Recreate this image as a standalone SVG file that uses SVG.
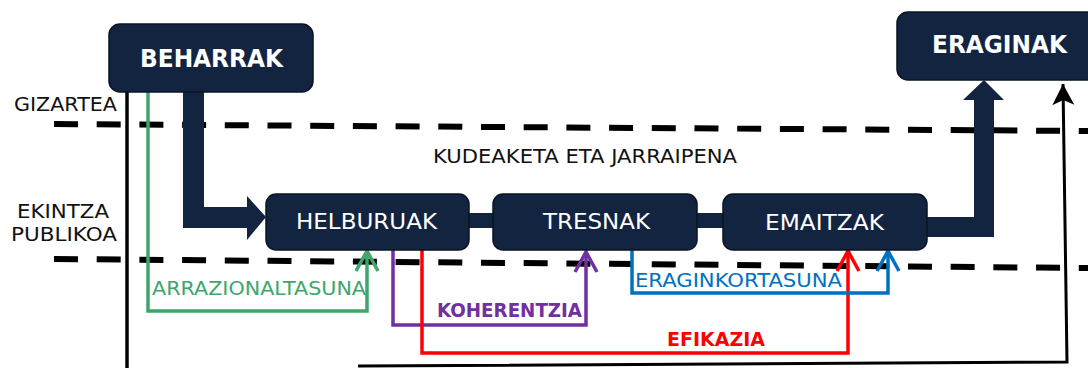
<svg xmlns="http://www.w3.org/2000/svg" width="1088" height="368" viewBox="0 0 1088 368">
<style>
.box{fill:#12243f;stroke:#0a1424;stroke-width:1.5}
.nb{font-family:"DejaVu Sans",Verdana,sans-serif;font-weight:bold;font-size:24px;fill:#ffffff}
.nr{font-family:"DejaVu Sans",Verdana,sans-serif;font-size:22px;fill:#ffffff}
.lb{font-family:"DejaVu Sans",Verdana,sans-serif;font-size:19px;fill:#111111}
.cl{font-family:"DejaVu Sans",Verdana,sans-serif;font-size:20px}
.dash{stroke:#000;stroke-width:6;stroke-dasharray:24 18.7;fill:none}
.flow{fill:#12243f}
.c{fill:none;stroke-width:3.5;stroke-linejoin:miter}
</style>
<defs>
<marker id="mg" markerUnits="userSpaceOnUse" orient="auto" refX="0" refY="0" markerWidth="30" markerHeight="30" viewBox="-24 -15 28 30" overflow="visible"><path d="M-20,-11 L0,0 L-20,11" fill="none" stroke="#3ea66c" stroke-width="3.5"/></marker>
<marker id="mp" markerUnits="userSpaceOnUse" orient="auto" refX="0" refY="0" markerWidth="30" markerHeight="30" viewBox="-24 -15 28 30" overflow="visible"><path d="M-20,-11 L0,0 L-20,11" fill="none" stroke="#7030a0" stroke-width="3.5"/></marker>
<marker id="mr" markerUnits="userSpaceOnUse" orient="auto" refX="0" refY="0" markerWidth="30" markerHeight="30" viewBox="-24 -15 28 30" overflow="visible"><path d="M-20,-11 L0,0 L-20,11" fill="none" stroke="#ff0000" stroke-width="3.5"/></marker>
<marker id="mb" markerUnits="userSpaceOnUse" orient="auto" refX="0" refY="0" markerWidth="30" markerHeight="30" viewBox="-24 -15 28 30" overflow="visible"><path d="M-20,-11 L0,0 L-20,11" fill="none" stroke="#0070c0" stroke-width="3.5"/></marker>
<marker id="mk" markerUnits="userSpaceOnUse" orient="auto" refX="0" refY="0" markerWidth="30" markerHeight="30" viewBox="-24 -15 28 30" overflow="visible"><path d="M0,0 L-21,-11 L-16,0 L-21,11 Z" fill="#000"/></marker>
</defs>

<g id="levels">
<line class="dash" x1="54" y1="124" x2="1088" y2="131"/>
<line class="dash" x1="54" y1="259" x2="1088" y2="268"/>
<text class="lb" x="14" y="111" textLength="103" lengthAdjust="spacingAndGlyphs">GIZARTEA</text>
<text class="lb" x="63" y="218" text-anchor="middle" textLength="92" lengthAdjust="spacingAndGlyphs">EKINTZA</text>
<text class="lb" x="64" y="241" text-anchor="middle" textLength="106" lengthAdjust="spacingAndGlyphs">PUBLIKOA</text>
<text class="lb" x="433" y="163" textLength="304" lengthAdjust="spacingAndGlyphs">KUDEAKETA ETA JARRAIPENA</text>
</g>

<g id="connectors">
<line x1="127" y1="90" x2="127" y2="370" stroke="#000" stroke-width="3.5"/>
<polyline points="358,366 1067,362 1063,84" fill="none" stroke="#000" stroke-width="3" marker-end="url(#mk)"/>
<path class="flow" d="M183,90 L204,90 L204,207 L247,207 L247,196 L266,217 L247,240 L247,228 L183,228 Z"/>
<rect class="flow" x="466" y="213" width="30" height="15"/>
<rect class="flow" x="695" y="213" width="30" height="15"/>
<path class="flow" d="M925,217 L974,217 L974,100 L963,100 L984,80 L1004,100 L994,100 L994,237 L925,237 Z"/>
<polyline class="c" stroke="#3ea66c" points="148,90 148,311 367,311 367,251" marker-end="url(#mg)"/>
<polyline class="c" stroke="#7030a0" points="393,249 393,325 586,325 586,252" marker-end="url(#mp)"/>
<polyline class="c" stroke="#ff0000" points="422,249 422,353 848,353 848,251" marker-end="url(#mr)"/>
<polyline class="c" stroke="#0070c0" points="632,249 632,293 888,293 888,251" marker-end="url(#mb)"/>
<text class="cl" x="152" y="295" fill="#3ea66c" textLength="214" lengthAdjust="spacingAndGlyphs">ARRAZIONALTASUNA</text>
<text class="cl" x="437" y="317" fill="#7030a0" font-weight="bold" textLength="145" lengthAdjust="spacingAndGlyphs">KOHERENTZIA</text>
<text class="cl" x="667" y="346" fill="#ff0000" font-weight="bold" textLength="98" lengthAdjust="spacingAndGlyphs">EFIKAZIA</text>
<text class="cl" x="635" y="287" fill="#0070c0" textLength="207" lengthAdjust="spacingAndGlyphs">ERAGINKORTASUNA</text>
</g>

<g id="beharrak">
<rect class="box" x="109" y="24" width="204" height="68" rx="11"/>
<text class="nb" x="140" y="67" textLength="143" lengthAdjust="spacingAndGlyphs">BEHARRAK</text>
</g>
<g id="eraginak">
<rect class="box" x="897" y="12" width="204" height="68" rx="11"/>
<text class="nb" x="932" y="53" font-size="23" textLength="135" lengthAdjust="spacingAndGlyphs">ERAGINAK</text>
</g>
<g id="helburuak">
<rect class="box" x="266" y="194" width="203" height="56" rx="10"/>
<text class="nr" x="296" y="229" textLength="141" lengthAdjust="spacingAndGlyphs">HELBURUAK</text>
</g>
<g id="tresnak">
<rect class="box" x="493" y="194" width="204" height="56" rx="10"/>
<text class="nr" x="543" y="229" textLength="107" lengthAdjust="spacingAndGlyphs">TRESNAK</text>
</g>
<g id="emaitzak">
<rect class="box" x="723" y="194" width="204" height="56" rx="10"/>
<text class="nr" x="765" y="230" textLength="119" lengthAdjust="spacingAndGlyphs">EMAITZAK</text>
</g>
</svg>
